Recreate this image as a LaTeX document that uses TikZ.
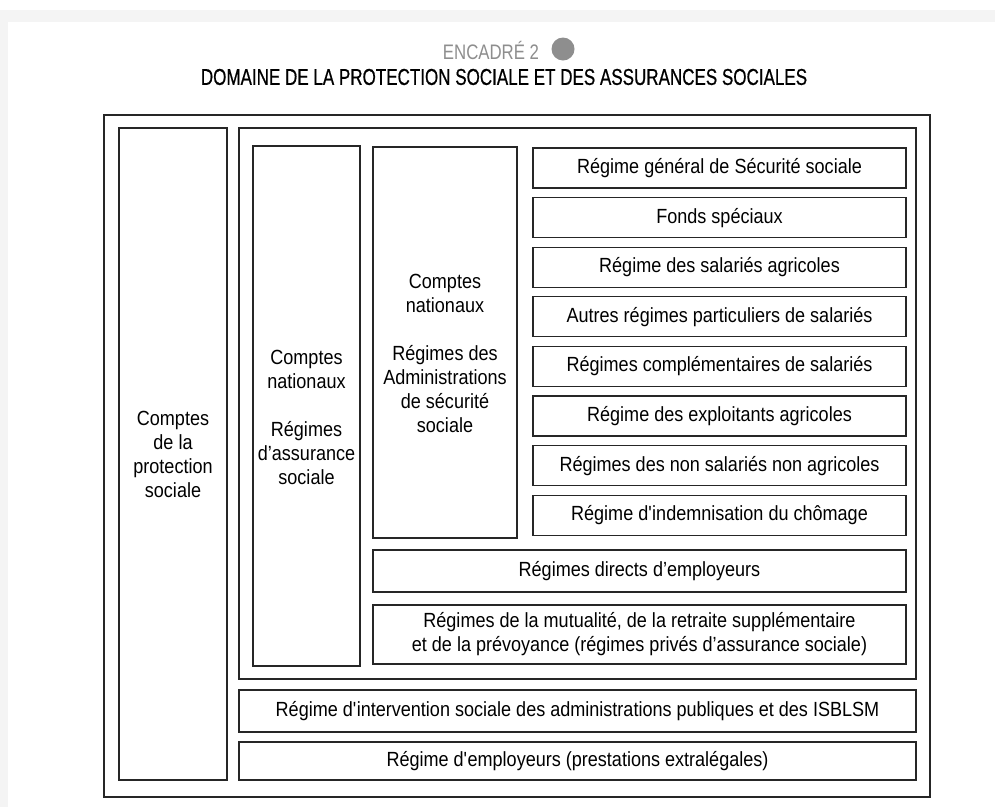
\documentclass[tikz,border=0pt]{standalone}
\usepackage{fontspec}
\setmainfont[FakeStretch=0.88]{Liberation Sans}
\newfontfamily\titlefont[FakeStretch=0.74,FakeBold=0.6]{Liberation Sans}
\newfontfamily\encfont[FakeStretch=0.8]{Liberation Sans}
\usetikzlibrary{positioning}
\definecolor{pagegray}{HTML}{F4F4F4}
\definecolor{encgray}{HTML}{8E8E8E}
\tikzset{box/.style={draw=black!85,line width=1.3pt,inner sep=0pt},
  lbl/.style={align=center,inner sep=0pt,font=\fontsize{20.5}{24}\selectfont}}

\begin{document}
\begin{tikzpicture}[x=1pt,y=-1pt]
  % page
  \useasboundingbox (0,0) rectangle (995,807);
  \fill[pagegray] (0,10) rectangle (995,807);
  \fill[white] (8,22) rectangle (995,807);

  % titles
  \node (enc) at (491,50) {\encfont\fontsize{21}{22}\selectfont\color{encgray}ENCADRÉ 2};
  \node (pastille) [circle,fill=encgray,minimum size=23pt,inner sep=0pt] at (563,49) {};
  \node (titre) at (504,77) {\titlefont\fontsize{23}{24}\selectfont DOMAINE DE LA PROTECTION SOCIALE ET DES ASSURANCES SOCIALES};

  % frames
  \node (cadre) [box,minimum width=826pt,minimum height=682pt] at (517,456) {};
  \node (cps) [box,lbl,minimum width=108pt,minimum height=652pt] at (173,454) {Comptes\\de la\\protection\\sociale};
  \node (ras) [box,minimum width=677pt,minimum height=551pt] at (577.5,403.5) {};
  \node (cnras) [box,lbl,minimum width=107pt,minimum height=520pt] at (306.5,406) {};
  \node (cnras-t) [lbl] at ([yshift=-11pt]cnras.center) {Comptes\\nationaux\\[24pt]Régimes\\d’assurance\\sociale};
  \node (asso) [box,minimum width=144pt,minimum height=391pt] at (445,342.5) {};
  \node (asso-t) [lbl] at ([yshift=-11pt]asso.center) {Comptes\\nationaux\\[24pt]Régimes des\\Administrations\\de sécurité\\sociale};

  % regimes des ASSO
  \foreach \nom/\texte [count=\i] in {gen/Régime général de Sécurité sociale,
      fonds/Fonds spéciaux,
      agri/Régime des salariés agricoles,
      autres/Autres régimes particuliers de salariés,
      compl/Régimes complémentaires de salariés,
      exploit/Régime des exploitants agricoles,
      nsna/Régimes des non salariés non agricoles,
      chom/Régime d\textquotesingle{}indemnisation du chômage}
  {\node (\nom) [box,lbl,minimum width=373pt,minimum height=40pt] at (719.5,{168+49.6*(\i-1)}) {\texte};}

  % autres regimes
  \node (directs) [box,lbl,minimum width=533pt,minimum height=42pt] at (639.5,571) {Régimes directs d’employeurs};
  \node (mutu) [box,lbl,minimum width=533pt,minimum height=59pt] at (639.5,634.5) {Régimes de la mutualité, de la retraite supplémentaire\\et de la prévoyance (régimes privés d’assurance sociale)};
  \node (interv) [box,lbl,minimum width=677pt,minimum height=42pt] at (577.5,711) {Régime d\textquotesingle{}intervention sociale des administrations publiques et des ISBLSM};
  \node (employ) [box,lbl,minimum width=677pt,minimum height=38pt] at (577.5,761) {Régime d\textquotesingle{}employeurs (prestations extralégales)};
\end{tikzpicture}
\end{document}
